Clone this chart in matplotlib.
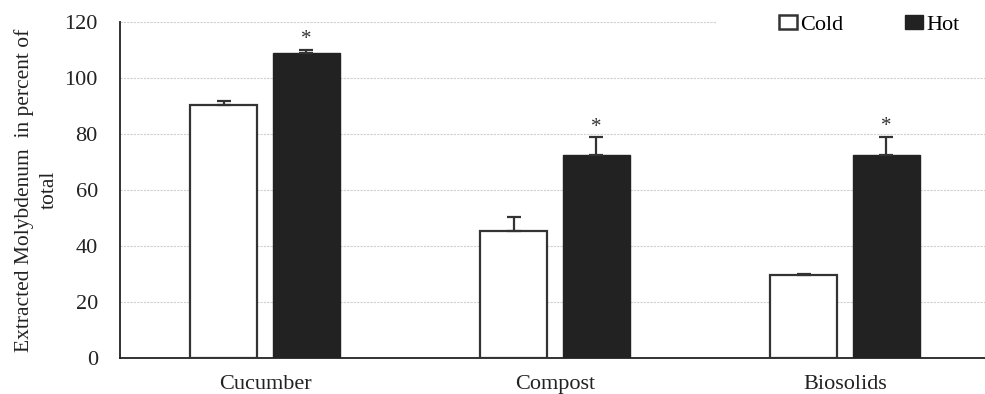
import matplotlib
matplotlib.use('Agg')
import matplotlib.pyplot as plt
from matplotlib.patches import Rectangle
import numpy as np

plt.rcParams['font.family'] = ['Liberation Serif', 'DejaVu Serif']

# Extraction results per material (percent of total Mo)
categories = ['Cucumber', 'Compost', 'Biosolids']
cold = [90.4, 45.5, 29.6]
cold_err = [1.4, 5.0, 0.3]
hot = [108.8, 72.6, 72.6]
hot_err = [1.2, 6.2, 6.5]
significant = [True, True, True]

fig = plt.figure(figsize=(9.85, 3.94), dpi=100)
ax = fig.add_axes([120 / 985, 36 / 394, 870 / 985, 336 / 394])

x = np.arange(len(categories))
width = 0.228
offset = 0.143
edge = '#333333'

ax.bar(x - offset, cold, width, color='white', edgecolor=edge, linewidth=1.6,
       label='Cold', zorder=3)
ax.bar(x + offset, hot, width, color='#222222', edgecolor='#222222',
       linewidth=1.0, label='Hot', zorder=3)
ax.errorbar(x - offset, cold, yerr=[np.zeros(3), cold_err], fmt='none',
            ecolor=edge, elinewidth=1.6, capsize=5, capthick=1.6, zorder=4)
ax.errorbar(x + offset, hot, yerr=[np.zeros(3), hot_err], fmt='none',
            ecolor=edge, elinewidth=1.6, capsize=5, capthick=1.6, zorder=4)

for xi, h, e, sig in zip(x, hot, hot_err, significant):
    if sig:
        ax.text(xi + offset, h + e + 0.3, '*', ha='center', va='bottom',
                fontsize=15, color='#333333')

ax.set_xlim(-0.5, 2.5)
ax.set_ylim(0, 120)
ax.set_yticks(np.arange(0, 121, 20))
ax.set_xticks(x)
ax.set_xticklabels(categories)
ax.tick_params(axis='both', length=0, labelsize=16, labelcolor='#222222')
ax.tick_params(axis='x', pad=12)
ax.tick_params(axis='y', pad=16)
ax.yaxis.grid(True, linestyle=(0, (2, 1)), color='#d0d0d0', linewidth=0.8,
              zorder=0)
ax.set_axisbelow(True)
for side in ['top', 'right']:
    ax.spines[side].set_visible(False)
for side in ['left', 'bottom']:
    ax.spines[side].set_color('#222222')
    ax.spines[side].set_linewidth(1.3)

ax.set_ylabel('Extracted Molybdenum  in percent of\ntotal', fontsize=15.5,
              linespacing=1.45, labelpad=4, color='#222222')

# white strip behind the legend
fig.add_artist(Rectangle((717 / 985, 1 - 40 / 394), 1, 40 / 394,
                         transform=fig.transFigure, facecolor='white',
                         edgecolor='none', zorder=2))

leg = fig.legend(loc='upper left', bbox_to_anchor=(759 / 985, 1.012), ncol=2,
                 frameon=False, fontsize=16, handlelength=0.8,
                 handleheight=0.6, handletextpad=0.15, columnspacing=2.8)
leg.set_zorder(3)
leg.legend_handles[0].set_linewidth(1.8)

fig.savefig('out.png', dpi=100)
